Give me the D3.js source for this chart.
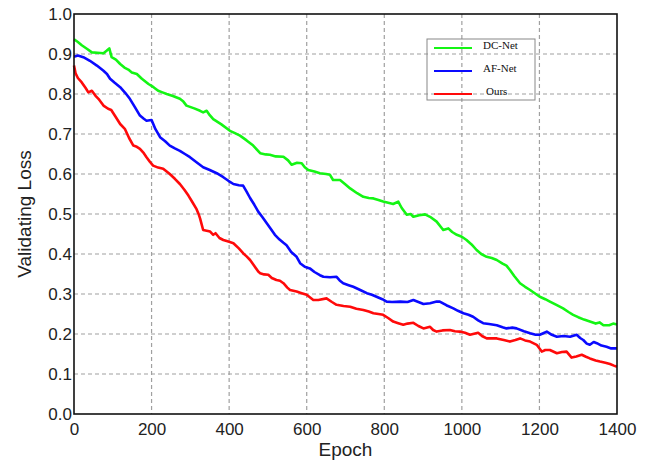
<!DOCTYPE html>
<html>
<head>
<meta charset="utf-8">
<script src="https://cdn.jsdelivr.net/npm/d3@7"></script>
<style>
  body { margin: 0; background: #fff; }
  svg { display: block; }
</style>
</head>
<body>
<svg id="vis" width="650" height="463"></svg>
<script>
const dcEpoch = [0,10,20,35,46,60,76,84,91,97,108,119,130,140,149,162,175,192,205,217,228,239,255,273,282,290,310,325,333,342,350,359,380,402,415,428,445,462,480,494,505,520,540,552,561,575,587,595,604,620,634,650,660,668,686,700,712,730,746,760,772,785,797,810,823,836,845,858,868,875,890,905,918,935,952,965,975,987,1000,1012,1025,1038,1050,1064,1077,1090,1105,1115,1124,1135,1150,1163,1176,1188,1201,1215,1227,1245,1261,1275,1287,1300,1315,1330,1345,1355,1365,1380,1390,1400];
const dcLoss = [0.937,0.93,0.922,0.912,0.904,0.903,0.902,0.908,0.914,0.892,0.886,0.875,0.866,0.861,0.854,0.85,0.838,0.825,0.817,0.808,0.804,0.8,0.795,0.788,0.781,0.771,0.764,0.758,0.754,0.758,0.747,0.737,0.724,0.708,0.702,0.696,0.684,0.671,0.652,0.649,0.648,0.644,0.643,0.634,0.623,0.628,0.627,0.617,0.61,0.606,0.602,0.6,0.598,0.585,0.585,0.574,0.564,0.552,0.543,0.54,0.539,0.535,0.531,0.528,0.525,0.531,0.515,0.498,0.5,0.493,0.497,0.499,0.493,0.481,0.46,0.464,0.455,0.448,0.443,0.435,0.424,0.41,0.4,0.393,0.39,0.385,0.376,0.371,0.36,0.345,0.327,0.318,0.31,0.302,0.293,0.287,0.281,0.272,0.264,0.255,0.248,0.242,0.236,0.231,0.226,0.229,0.222,0.222,0.226,0.224];

const afEpoch = [0,10,24,41,59,76,85,93,105,119,132,144,157,170,180,187,200,210,222,235,247,260,273,286,299,315,333,350,368,385,398,411,425,436,445,454,465,475,486,497,508,518,530,540,548,560,574,583,595,608,620,634,643,660,677,685,694,708,720,738,755,768,780,795,806,820,841,860,875,888,901,918,935,943,960,978,990,1004,1017,1029,1042,1055,1070,1090,1105,1115,1130,1141,1160,1176,1190,1201,1210,1219,1232,1245,1262,1279,1296,1305,1313,1322,1330,1340,1348,1360,1373,1385,1400];
const afLoss = [0.893,0.896,0.892,0.883,0.871,0.858,0.85,0.838,0.828,0.817,0.803,0.788,0.767,0.746,0.738,0.733,0.735,0.712,0.692,0.682,0.671,0.664,0.658,0.65,0.642,0.63,0.617,0.61,0.602,0.592,0.583,0.575,0.572,0.571,0.556,0.54,0.523,0.506,0.492,0.477,0.462,0.448,0.436,0.428,0.422,0.405,0.393,0.377,0.368,0.364,0.355,0.347,0.343,0.342,0.343,0.334,0.327,0.322,0.318,0.31,0.302,0.298,0.293,0.287,0.281,0.28,0.281,0.28,0.285,0.28,0.275,0.277,0.281,0.281,0.272,0.264,0.258,0.252,0.248,0.243,0.234,0.227,0.225,0.222,0.217,0.214,0.216,0.214,0.207,0.202,0.198,0.198,0.202,0.206,0.198,0.193,0.195,0.193,0.198,0.19,0.185,0.176,0.173,0.18,0.177,0.171,0.168,0.164,0.164];

const oursEpoch = [0,4,10,20,30,37,46,55,63,76,88,96,108,119,131,142,153,162,170,180,187,196,204,217,230,247,260,273,285,295,305,316,322,325,333,342,351,359,365,375,385,398,411,425,436,445,454,465,475,480,490,501,510,522,531,540,550,557,574,587,600,608,617,630,651,665,677,695,712,728,746,760,772,785,797,810,823,836,849,860,875,888,901,918,926,935,950,969,982,995,1008,1021,1042,1052,1064,1090,1108,1124,1138,1150,1163,1176,1193,1206,1215,1227,1245,1258,1270,1283,1295,1309,1320,1330,1345,1356,1370,1382,1392,1400];
const oursLoss = [0.871,0.852,0.84,0.829,0.815,0.804,0.808,0.796,0.788,0.771,0.763,0.76,0.742,0.725,0.713,0.69,0.671,0.668,0.663,0.652,0.642,0.63,0.621,0.616,0.613,0.6,0.588,0.575,0.56,0.546,0.53,0.512,0.498,0.489,0.46,0.458,0.456,0.448,0.452,0.44,0.435,0.431,0.427,0.414,0.402,0.394,0.385,0.37,0.356,0.352,0.349,0.348,0.34,0.335,0.333,0.327,0.316,0.31,0.306,0.302,0.298,0.292,0.285,0.285,0.289,0.28,0.273,0.27,0.268,0.263,0.26,0.256,0.252,0.25,0.248,0.24,0.231,0.227,0.223,0.226,0.228,0.22,0.214,0.218,0.21,0.206,0.209,0.21,0.207,0.206,0.203,0.198,0.203,0.195,0.189,0.189,0.185,0.181,0.185,0.189,0.184,0.181,0.173,0.156,0.16,0.16,0.152,0.155,0.156,0.141,0.144,0.148,0.143,0.139,0.134,0.131,0.128,0.125,0.121,0.118];

const seriesNames = ["DC-Net", "AF-Net", "Ours"];
const xTicks = [0, 200, 400, 600, 800, 1000, 1200, 1400];
const yTicks = [0, 0.1, 0.2, 0.3, 0.4, 0.5, 0.6, 0.7, 0.8, 0.9, 1.0];

const colors = ["#14f514", "#0a0aff", "#ff0a0a"];
const series = [
  {name: seriesNames[0], ep: dcEpoch, v: dcLoss, color: colors[0]},
  {name: seriesNames[1], ep: afEpoch, v: afLoss, color: colors[1]},
  {name: seriesNames[2], ep: oursEpoch, v: oursLoss, color: colors[2]}
];

const margin = {left: 74, top: 14, right: 33, bottom: 49};
const W = 650, H = 463;
const pw = W - margin.left - margin.right, ph = H - margin.top - margin.bottom;

const svg = d3.select("#vis");
const g = svg.append("g").attr("transform", `translate(${margin.left},${margin.top})`);

const x = d3.scaleLinear().domain([0, 1400]).range([0, pw]);
const y = d3.scaleLinear().domain([0, 1]).range([ph, 0]);

// grid
g.append("g").selectAll("line").data(xTicks.slice(1, -1)).join("line")
  .attr("x1", d => x(d)).attr("x2", d => x(d))
  .attr("y1", 0).attr("y2", ph)
  .attr("stroke", "#a0a0a0").attr("stroke-width", 1.2).attr("stroke-dasharray", "4,3");
g.append("g").selectAll("line").data(yTicks.slice(1, -1)).join("line")
  .attr("y1", d => y(d)).attr("y2", d => y(d))
  .attr("x1", 0).attr("x2", pw)
  .attr("stroke", "#a0a0a0").attr("stroke-width", 1.2).attr("stroke-dasharray", "4,3");

// lines
const line = d3.line().x(d => x(d[0])).y(d => y(d[1]));
series.forEach(s => {
  g.append("path")
    .datum(d3.zip(s.ep, s.v))
    .attr("d", line)
    .attr("fill", "none")
    .attr("stroke", s.color)
    .attr("stroke-width", 2.6)
    .attr("stroke-linejoin", "round");
});

// frame
g.append("rect").attr("width", pw).attr("height", ph)
  .attr("fill", "none").attr("stroke", "#111").attr("stroke-width", 1.6);

// axes
const xAxis = g.append("g").attr("transform", `translate(0,${ph})`)
  .call(d3.axisBottom(x).tickValues(xTicks).tickSize(0).tickPadding(9).tickFormat(d3.format("d")));
const yAxis = g.append("g")
  .call(d3.axisLeft(y).tickValues(yTicks).tickSize(0).tickPadding(2).tickFormat(d3.format(".1f")));
[xAxis, yAxis].forEach(a => {
  a.select(".domain").remove();
  a.selectAll("text").attr("font-family", "Liberation Sans, Arial, sans-serif")
    .attr("font-size", 17).attr("fill", "#222");
});

svg.append("text").attr("x", margin.left + pw / 2).attr("y", 456)
  .attr("text-anchor", "middle").attr("font-family", "Liberation Sans, Arial, sans-serif")
  .attr("font-size", 19).attr("fill", "#222").text("Epoch");
svg.append("text").attr("transform", `translate(31,${margin.top + ph / 2}) rotate(-90)`)
  .attr("text-anchor", "middle").attr("font-family", "Liberation Sans, Arial, sans-serif")
  .attr("font-size", 19).attr("fill", "#222").text("Validating Loss");

// legend
const lg = svg.append("g").attr("transform", "translate(427,39)");
lg.append("rect").attr("width", 108).attr("height", 61)
  .attr("fill", "none").attr("stroke", "#888").attr("stroke-width", 1);
series.forEach((s, i) => {
  const ly = 9 + i * 23;
  lg.append("line").attr("x1", 7).attr("x2", 45).attr("y1", ly).attr("y2", ly)
    .attr("stroke", s.color).attr("stroke-width", 2);
  lg.append("text").attr("x", i === 2 ? 59 : 56).attr("y", ly + 1)
    .attr("font-family", "Liberation Serif, Times New Roman, serif")
    .attr("font-size", 11).attr("fill", "#111").text(s.name);
});
</script>
</body>
</html>
